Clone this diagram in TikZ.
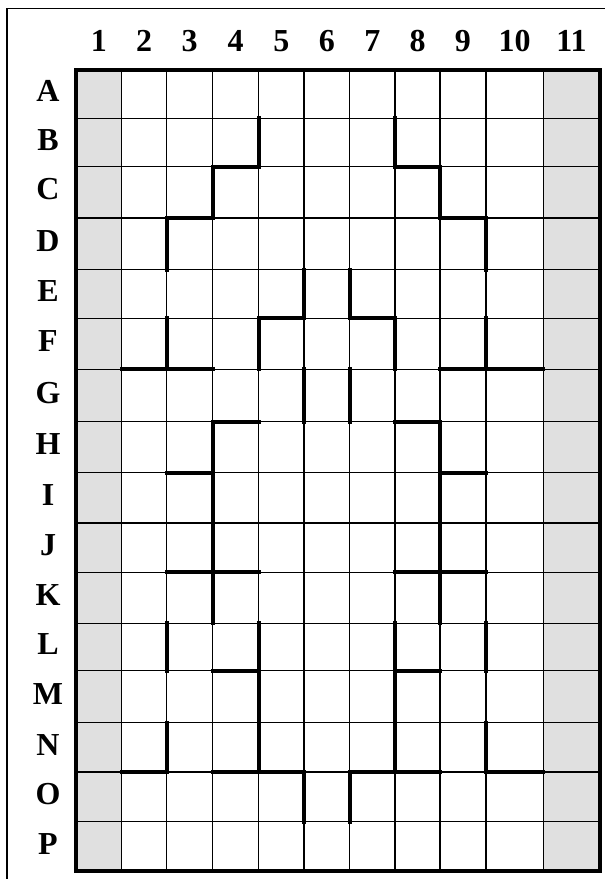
\documentclass[tikz,border=0pt]{standalone}
\usepackage{fontspec}
\setmainfont{Liberation Serif}
\definecolor{cellgray}{HTML}{E0E0E0}
\begin{document}
\begin{tikzpicture}[x=1pt,y=-1pt,
  gridline/.style={line width=1.4pt, black},
  wall/.style={line width=4pt, black, line cap=rect},
  outerbox/.style={line width=4.2pt, black},
  framel/.style={line width=1.2pt, black},
  lbl/.style={font=\fontsize{32}{38}\selectfont\bfseries, anchor=base, inner sep=0pt}]
\useasboundingbox (0,0) rectangle (605,879);
\def\xs{{76,121.7,166.7,212.7,258.7,304,349.5,395,440,485.8,543.3,599.7}}
\def\ys{{69.7,118.3,166.5,218,269.5,318.3,369.3,421.5,472.5,523,572.3,623.3,670.7,722.7,772,821.7,871}}
\foreach \i in {0,...,11}{
  \foreach \j in {0,...,16}{
    \pgfmathsetmacro\X{\xs[\i]}
    \pgfmathsetmacro\Y{\ys[\j]}
    \coordinate (p\i-\j) at (\X,\Y);
  }
}
% outer frame
\coordinate (fa) at (7,879);
\coordinate (fb) at (7,8.5);
\coordinate (fc) at (605,8.5);
\draw[framel] (fa) -- (fb) -- (fc);
% shaded columns
\fill[cellgray] (p0-0) rectangle (p1-16);
\fill[cellgray] (p10-0) rectangle (p11-16);
% thin grid
\foreach \i in {1,...,10}{\draw[gridline] (p\i-0) -- (p\i-16);}
\foreach \j in {1,...,15}{\draw[gridline] (p0-\j) -- (p11-\j);}
% thick vertical walls: boundary/row
\foreach \b/\r in {4/2,7/2, 3/3,8/3, 2/4,9/4, 5/5,6/5, 2/6,4/6,7/6,9/6, 5/7,6/7,
  3/8,8/8, 3/9,8/9, 3/10,8/10, 3/11,8/11, 2/12,4/12,7/12,9/12, 4/13,7/13,
  2/14,4/14,7/14,9/14, 5/15,6/15}{
  \pgfmathtruncatemacro\rp{\r-1}
  \draw[wall] (p\b-\rp) -- (p\b-\r);
}
% thick horizontal walls: rowboundary/column
\foreach \j/\c in {2/4,2/8, 3/3,3/9, 5/5,5/7, 6/2,6/3,6/9,6/10, 7/4,7/8, 8/3,8/9,
  10/3,10/4,10/8,10/9, 12/4,12/8, 14/2,14/4,14/5,14/7,14/8,14/10}{
  \pgfmathtruncatemacro\cp{\c-1}
  \draw[wall] (p\cp-\j) -- (p\c-\j);
}
% outer border
\draw[outerbox] (p0-0) rectangle (p11-16);
% column labels
\foreach \c in {1,...,11}{
  \pgfmathtruncatemacro\cp{\c-1}
  \pgfmathsetmacro\Xa{\xs[\cp]}
  \pgfmathsetmacro\Xb{\xs[\c]}
  \pgfmathsetmacro\X{(\Xa+\Xb)/2}
  \node[lbl] (col\c) at (\X,51.7) {\c};
}
% row labels
\foreach \r/\t in {1/A,2/B,3/C,4/D,5/E,6/F,7/G,8/H,9/I,10/J,11/K,12/L,13/M,14/N,15/O,16/P}{
  \pgfmathtruncatemacro\rp{\r-1}
  \pgfmathsetmacro\Ya{\ys[\rp]}
  \pgfmathsetmacro\Yb{\ys[\r]}
  \pgfmathsetmacro\Y{(\Ya+\Yb)/2+7.7}
  \node[lbl] (row\t) at (48,\Y) {\t};
}
\end{tikzpicture}
\end{document}
